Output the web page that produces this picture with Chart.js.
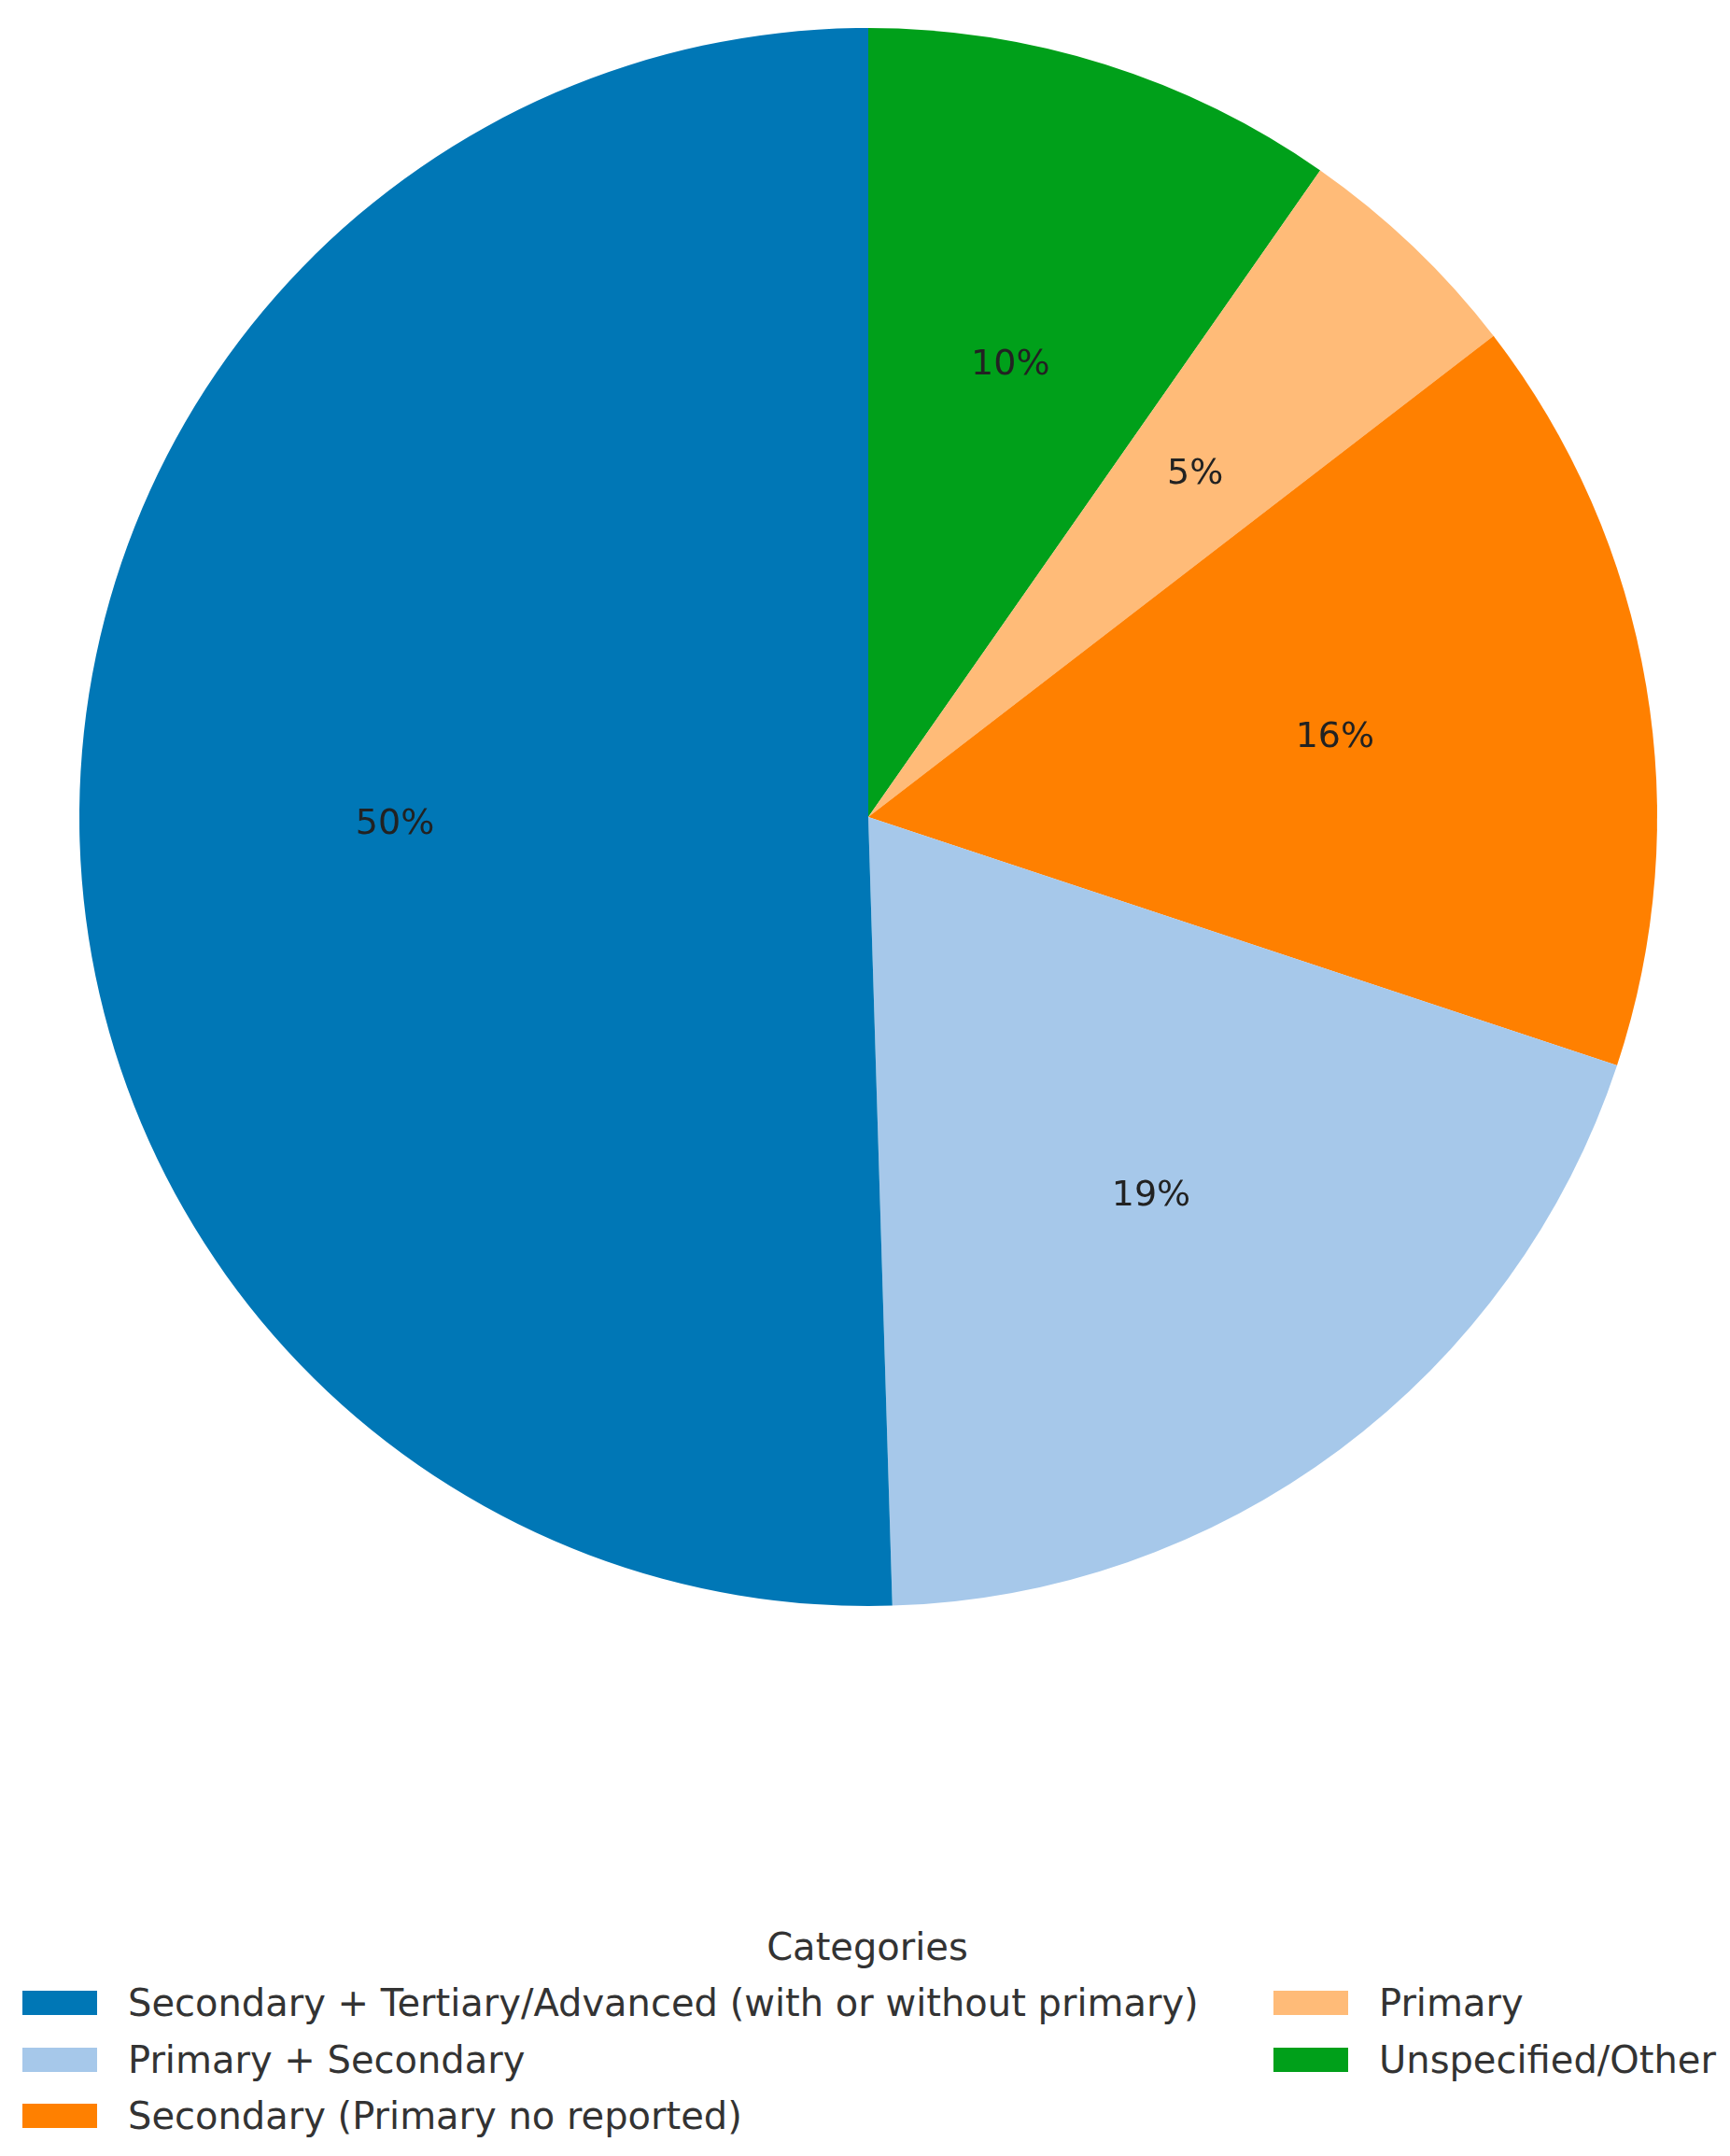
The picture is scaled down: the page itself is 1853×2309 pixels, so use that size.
<!DOCTYPE html>
<html>
<head>
<meta charset="utf-8">
<script src="https://cdn.jsdelivr.net/npm/chart.js@4/dist/chart.umd.min.js"></script>
<style>
  html, body { margin: 0; padding: 0; background: #fff; }
  body { width: 1853px; height: 2309px; position: relative; font-family: "DejaVu Sans", sans-serif; overflow: hidden; }
  #wrap { position: absolute; left: 0; top: 0; width: 1853px; height: 1750px; }
  #legendTitle { position: absolute; left: 0; width: 1858px; top: 2062px; text-align: center; font-size: 40px; color: #333; }
  .item { position: absolute; height: 50px; display: flex; align-items: center; font-size: 40px; color: #333; white-space: nowrap; }
  .swatch { width: 80px; height: 26px; margin-right: 33px; }
</style>
</head>
<body>
<div id="wrap"><canvas id="pie"></canvas></div>
<div id="legendTitle">Categories</div>
<div id="legend"></div>
<script>
// categories in legend order
const categories = [
    'Secondary + Tertiary/Advanced (with or without primary)',
    'Primary + Secondary',
    'Secondary (Primary no reported)',
    'Primary',
    'Unspecified/Other'
];
// counts
const counts = [104, 40, 32, 10, 20];
const colors = ['#0077b6', '#a6c8ea', '#ff8000', '#ffbb78', '#00a01a'];

// the reference runs counter-clockwise from 12 o'clock, Chart.js goes clockwise,
// so feed the slices in reverse
const order = [4, 3, 2, 1, 0];
const total = counts.reduce((a, b) => a + b, 0);

// percentage labels at 0.6 of the radius
const pctLabels = {
    id: 'pctLabels',
    afterDatasetsDraw(chart) {
        const ctx = chart.ctx;
        const meta = chart.getDatasetMeta(0);
        ctx.save();
        ctx.font = '38px "DejaVu Sans"';
        ctx.fillStyle = '#222';
        ctx.textAlign = 'center';
        ctx.textBaseline = 'middle';
        meta.data.forEach((arc, i) => {
            const p = arc.getProps(['x', 'y', 'startAngle', 'endAngle', 'outerRadius'], true);
            const mid = (p.startAngle + p.endAngle) / 2;
            const r = p.outerRadius * 0.6;
            const v = chart.data.datasets[0].data[i];
            ctx.fillText(Math.round(v / total * 100) + '%', p.x + Math.cos(mid) * r, p.y + Math.sin(mid) * r);
        });
        ctx.restore();
    }
};

new Chart(document.getElementById('pie'), {
    type: 'pie',
    data: {
        labels: order.map(i => categories[i]),
        datasets: [{
            data: order.map(i => counts[i]),
            backgroundColor: order.map(i => colors[i]),
            borderWidth: 0
        }]
    },
    options: {
        responsive: true,
        maintainAspectRatio: false,
        animation: false,
        layout: {padding: {top: 30, bottom: 30, left: 7, right: 0}},
        plugins: {legend: {display: false}, tooltip: {enabled: false}}
    },
    plugins: [pctLabels]
});

// legend, two columns filled top to bottom
const legend = document.getElementById('legend');
const colX = [24, 1364];
categories.forEach((c, i) => {
    const col = i < 3 ? 0 : 1;
    const row = i < 3 ? i : i - 3;
    const div = document.createElement('div');
    div.className = 'item';
    div.style.left = colX[col] + 'px';
    div.style.top = (2120 + row * 60.5) + 'px';
    div.innerHTML = '<span class="swatch" style="background:' + colors[i] + '"></span><span>' + c + '</span>';
    legend.appendChild(div);
});
</script>
</body>
</html>
